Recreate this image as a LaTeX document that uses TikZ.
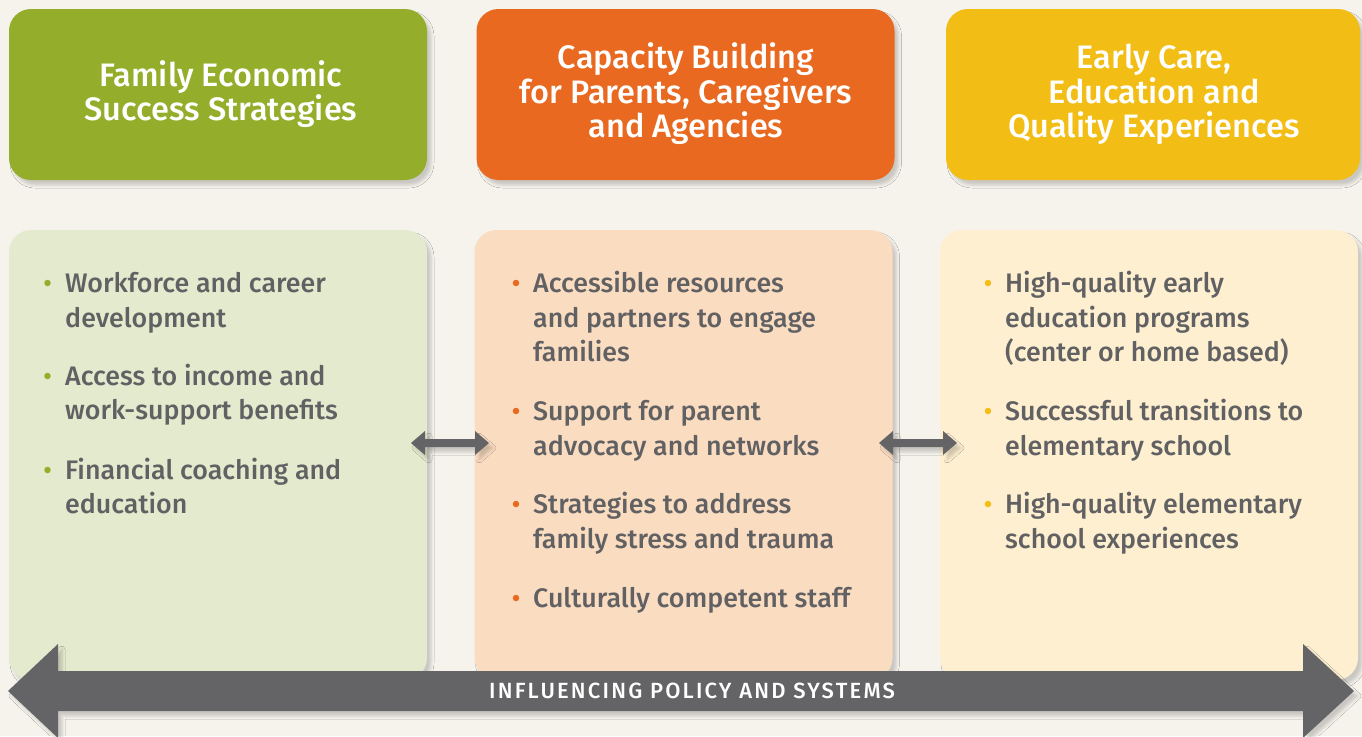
\documentclass[tikz,border=0pt]{standalone}
\usepackage{fontspec}
\IfFontExistsTF{Fira Sans Medium}{\setmainfont{Fira Sans Medium}}{\setmainfont{Fira Sans}}
\usetikzlibrary{shadows.blur}
\definecolor{bg}{HTML}{F6F3ED}
\definecolor{grn}{HTML}{94AE2B}
\definecolor{org}{HTML}{E8691F}
\definecolor{ylw}{HTML}{F2BE15}
\definecolor{lgrn}{HTML}{E4EACE}
\definecolor{lorg}{HTML}{FADCC1}
\definecolor{lylw}{HTML}{FDEFD0}
\definecolor{txt}{HTML}{616163}
\definecolor{arr}{HTML}{646466}
\begin{document}
\begin{tikzpicture}[x=1pt,y=-1pt,
 shad/.style={blur shadow={shadow xshift=4pt,shadow yshift=-5pt,shadow blur radius=3pt,shadow opacity=18}},
 topbox/.style={rounded corners=22pt,inner sep=0,minimum height=171,minimum width=418,shad},
 lowbox/.style={rounded corners=22pt,inner sep=0,minimum height=450,minimum width=418,shad},
 headtxt/.style={text=white,font=\fontsize{32.5}{34}\selectfont,anchor=base,inner sep=0},
 bodytxt/.style={text=txt,font=\fontsize{26.8}{34}\selectfont,anchor=base west,inner sep=0},
 dot/.style={circle,inner sep=0,minimum size=6.5}]
\useasboundingbox (0,0) rectangle (1362,736);
\fill[bg] (0,0) rectangle (1362,736);

% top boxes
\node[topbox,fill=grn] (g) at (218,94.5) {};
\node[topbox,fill=org] (o) at (685.5,94.5) {};
\node[topbox,fill=ylw,minimum width=414] (y) at (1153,94.5) {};

\node[headtxt] (g1) at (221,86) {Family Economic};
\node[headtxt] (g2) at (221,120) {Success Strategies};
\node[headtxt] (o1) at (686,68) {Capacity Building};
\node[headtxt] (o2) at (686,103) {for Parents, Caregivers};
\node[headtxt] (o3) at (686,137) {and Agencies};
\node[headtxt] (y1) at (1154,68) {Early Care,};
\node[headtxt] (y2) at (1154,103) {Education and};
\node[headtxt] (y3) at (1154,137) {Quality Experiences};

% lower boxes
\node[lowbox,fill=lgrn] (G) at (218,455) {};
\node[lowbox,fill=lorg] (O) at (683.5,455) {};
\node[lowbox,fill=lylw] (Y) at (1149,455) {};

% green list
\node[dot,fill=grn] (gd1) at (47.5,283) {};
\node[bodytxt] (gt1a) at (65,292) {Workforce and career};
\node[bodytxt] (gt1b) at (65,327) {development};
\node[dot,fill=grn] (gd2) at (47.5,376) {};
\node[bodytxt] (gt2a) at (65,385) {Access to income and};
\node[bodytxt] (gt2b) at (65,419) {work-support benefits};
\node[dot,fill=grn] (gd3) at (47.5,470) {};
\node[bodytxt] (gt3a) at (65,479) {Financial coaching and};
\node[bodytxt] (gt3b) at (65,513) {education};

% orange list
\node[dot,fill=org] (od1) at (516,283) {};
\node[bodytxt] (ot1a) at (533,292) {Accessible resources};
\node[bodytxt] (ot1b) at (533,327) {and partners to engage};
\node[bodytxt] (ot1c) at (533,361) {families};
\node[dot,fill=org] (od2) at (516,411) {};
\node[bodytxt] (ot2a) at (533,420) {Support for parent};
\node[bodytxt] (ot2b) at (533,455) {advocacy and networks};
\node[dot,fill=org] (od3) at (516,504) {};
\node[bodytxt] (ot3a) at (533,513) {Strategies to address};
\node[bodytxt] (ot3b) at (533,548) {family stress and trauma};
\node[dot,fill=org] (od4) at (516,598) {};
\node[bodytxt] (ot4a) at (533,607) {Culturally competent staff};

% yellow list
\node[dot,fill=ylw] (yd1) at (988,283) {};
\node[bodytxt] (yt1a) at (1005,292) {High-quality early};
\node[bodytxt] (yt1b) at (1005,327) {education programs};
\node[bodytxt] (yt1c) at (1005,361) {(center or home based)};
\node[dot,fill=ylw] (yd2) at (988,411) {};
\node[bodytxt] (yt2a) at (1005,420) {Successful transitions to};
\node[bodytxt] (yt2b) at (1005,455) {elementary school};
\node[dot,fill=ylw] (yd3) at (988,504) {};
\node[bodytxt] (yt3a) at (1005,513) {High-quality elementary};
\node[bodytxt] (yt3b) at (1005,548) {school experiences};

% small double arrows
\coordinate (a1) at (411,443);
\coordinate (a2) at (879,443);
\foreach \c in {a1,a2}{
 \fill[arr,shad] (\c) -- ++(14,-12) -- ++(0,8) -- ++(50,0) -- ++(0,-8) -- ++(14,12)
   -- ++(-14,12) -- ++(0,-8) -- ++(-50,0) -- ++(0,8) -- cycle;
}

% big arrow
\coordinate (L) at (8,691);
\coordinate (R) at (1354,691);
\fill[arr,shad] (L) -- ++(50,-47) -- ++(0,27) -- ++(1245,0) -- ++(0,-27) -- (R)
  -- ++(-51,47) -- ++(0,-27) -- ++(-1245,0) -- ++(0,27) -- cycle;
\node[text=white,font=\fontsize{22}{22}\selectfont\addfontfeature{LetterSpace=10},anchor=base,inner sep=0] (lab) at (692,698) {INFLUENCING POLICY AND SYSTEMS};
\end{tikzpicture}
\end{document}
